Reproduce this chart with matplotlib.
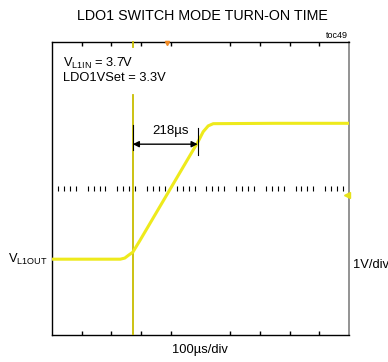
import numpy as np
import matplotlib
matplotlib.use("Agg")
import matplotlib.pyplot as plt

plt.rcParams['font.family'] = ['Liberation Sans', 'DejaVu Sans']
plt.rcParams['mathtext.fontset'] = 'custom'
plt.rcParams['mathtext.rm'] = 'Liberation Sans'
plt.rcParams['mathtext.it'] = 'Liberation Sans'

# Data (x in time divisions of 100us, y in divisions of 1V, relative to screen centre)
trace_t = [0.0, 2.30, 2.45, 2.58, 2.72, 2.96, 4.92, 5.09, 5.26, 5.43, 7.5, 10.0]
trace_v = [-1.93, -1.93, -1.90, -1.82, -1.74, -1.42, 1.28, 1.55, 1.71, 1.77, 1.78, 1.78]
cursor_t = 2.72          # trigger / start cursor
end_t = 4.906            # end of measured rise
meas_label = "218µs"
major_ticks = [1, 2, 3, 4, 6, 7, 8, 9]

W, H = 388, 362
fig = plt.figure(figsize=(W / 100, H / 100), dpi=100)
ax = fig.add_axes([52 / W, 1 - 335 / H, 297 / W, 293 / H])
ax.set_xlim(0, 10)
ax.set_ylim(-4, 4)

for side in ['left', 'top', 'bottom']:
    ax.spines[side].set_color('black')
    ax.spines[side].set_linewidth(1.0)
ax.spines['right'].set_color('#808080')
ax.spines['right'].set_linewidth(1.2)

ax.set_xticks(major_ticks)
ax.set_xticklabels([])
ax.set_yticks([])
ax.tick_params(axis='x', direction='in', length=3.2, width=1.0, top=True, bottom=True,
               labelbottom=False, color='black')

# centre line minor ticks
minor = [k * 0.2 for k in range(1, 50) if k % 5 != 0]
ax.vlines(minor, -0.07, 0.07, colors='black', linewidth=0.8)

# cursor line
ax.plot([cursor_t, cursor_t], [-4, 2.55], color='#c8bd00', linewidth=1.3, zorder=3)
ax.plot([cursor_t, cursor_t], [3.87, 4], color='#c8bd00', linewidth=1.3, zorder=3, clip_on=False)

# trace
ax.plot(trace_t, trace_v, color='#eeea1c', linewidth=2.2, solid_joinstyle='round', zorder=4)

# markers
ax.plot([3.87], [3.96], marker='v', color='#f08a24', markersize=3, clip_on=False, zorder=5)
ax.plot([9.93], [-0.18], marker='<', color='#e6e21a', markersize=5, clip_on=False, zorder=5)

# measurement
ax.plot([cursor_t, cursor_t], [1.05, 1.73], color='black', linewidth=0.8, zorder=5)
ax.plot([end_t, end_t], [0.92, 1.65], color='black', linewidth=0.8, zorder=5)
ax.annotate('', xy=(cursor_t, 1.21), xytext=(end_t, 1.21),
            arrowprops=dict(arrowstyle='<|-|>', color='black', linewidth=1.0,
                            mutation_scale=9, shrinkA=0, shrinkB=0), zorder=6)
ax.text(3.98, 1.58, meas_label, ha='center', va='center', fontsize=9.5)


def ft(px, py, s, **kw):
    fig.text(px / W, 1 - py / H, s, **kw)


ft(202, 16, "LDO1 SWITCH MODE TURN-ON TIME", ha='center', va='center', fontsize=10.3)
ft(348, 35, "toc49", ha='right', va='center', fontsize=6.5)
ft(63, 63, r"V$_{\mathregular{L1IN}}$ = 3.7V", ha='left', va='center', fontsize=9.3)
ft(63, 78, "LDO1VSet = 3.3V", ha='left', va='center', fontsize=9.3)
ft(8, 259, r"V$_{\mathregular{L1OUT}}$", ha='left', va='center', fontsize=9.3)
ft(353, 265, "1V/div", ha='left', va='center', fontsize=9.3)
ft(200, 350, "100µs/div", ha='center', va='center', fontsize=9.3)

fig.savefig("out.png", dpi=100)
